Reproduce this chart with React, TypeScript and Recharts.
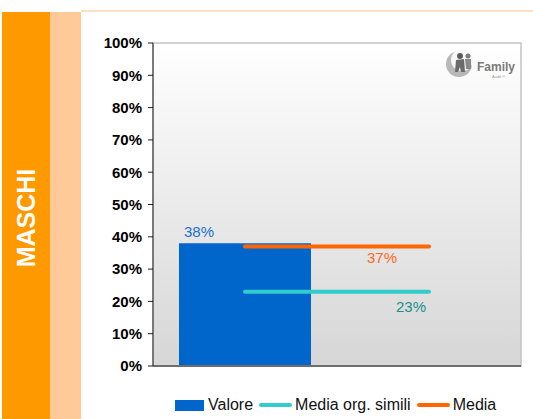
import React from "react";
import {
  Bar,
  CartesianGrid,
  ComposedChart,
  LabelList,
  Legend,
  Line,
  ReferenceArea,
  ReferenceLine,
  XAxis,
  YAxis,
} from "recharts";

const categories = ["A", "B"];
const valore = [38, null];
const mediaSimili = [23, 23];
const media = [37, 37];
const yTicks = [0, 10, 20, 30, 40, 50, 60, 70, 80, 90, 100];

const data = categories.map((cat, i) => ({
  cat,
  valore: valore[i],
  simili: mediaSimili[i],
  media: media[i],
}));

const FONT = '"Liberation Sans", Arial, sans-serif';

const legendItems = [
  { label: "Valore", color: "#0066cc", kind: "box" },
  { label: "Media org. simili", color: "#33cccc", kind: "line" },
  { label: "Media", color: "#ff6600", kind: "line" },
];

function ChartLegend() {
  return (
    <div style={{ display: "flex", alignItems: "center", fontFamily: FONT, fontSize: 16, color: "#111", paddingLeft: 175 }}>
      {legendItems.map((it) => (
        <div key={it.label} style={{ display: "flex", alignItems: "center", marginRight: 6 }}>
          {it.kind === "box" ? (
            <span style={{ width: 29, height: 11, background: it.color, display: "inline-block", marginRight: 4 }} />
          ) : (
            <span style={{ width: 33, height: 4, borderRadius: 2, background: it.color, display: "inline-block", marginRight: 3 }} />
          )}
          <span>{it.label}</span>
        </div>
      ))}
    </div>
  );
}

// value label for the last point of each line, shifted like the original
const lineLabel = (color: string, dx: number, dy: number) => (props: any) => {
  const { x, y, value, index } = props;
  if (index !== 1) return null;
  return (
    <text x={x + dx} y={y + dy} fill={color} fontSize={15} fontFamily={FONT} textAnchor="middle">
      {value}%
    </text>
  );
};

const barLabel = (props: any) => {
  const { x, y, value } = props;
  if (value == null) return null;
  return (
    <text x={x + 20} y={y - 6} fill="#1a6fd0" fontSize={15} fontFamily={FONT} textAnchor="middle">
      {value}%
    </text>
  );
};

export default function App() {
  return (
    <div style={{ position: "absolute", left: 0, top: 0, width: 533, height: 419, background: "#fff", overflow: "hidden" }}>
      <div style={{ position: "absolute", left: 2, top: 12, width: 48, height: 407, background: "#ff9900" }} />
      <div style={{ position: "absolute", left: 50, top: 12, width: 31, height: 407, background: "#fdca98" }} />
      <div style={{ position: "absolute", left: 81, top: 10, width: 452, height: 2, background: "#fde0c4" }} />
      <div
        style={{
          position: "absolute",
          left: 26,
          top: 218,
          transform: "translate(-50%, -50%) rotate(-90deg)",
          color: "#fff",
          fontFamily: FONT,
          fontWeight: "bold",
          fontSize: 25,
          whiteSpace: "nowrap",
        }}
      >
        MASCHI
      </div>

      <div style={{ position: "absolute", left: 0, top: 0 }}>
        <ComposedChart width={533} height={419} data={data} margin={{ top: 43, right: 12, bottom: 33, left: 0 }}>
          <defs>
            <linearGradient id="plotBg" x1="0" y1="0" x2="0" y2="1">
              <stop offset="0%" stopColor="#ffffff" />
              <stop offset="100%" stopColor="#d6d6d6" />
            </linearGradient>
          </defs>
          <CartesianGrid horizontal={false} vertical={false} fill="url(#plotBg)" />
          <ReferenceArea y1={0} y2={100} fill="none" stroke="#c4c4c4" strokeWidth={1.5} />
          <XAxis dataKey="cat" hide />
          <YAxis
            width={153}
            domain={[0, 100]}
            ticks={yTicks}
            tickFormatter={(v) => `${v}%`}
            axisLine={{ stroke: "#222" }}
            tickLine={{ stroke: "#222" }}
            tickSize={5}
            tickMargin={6}
            tick={{ fill: "#000", fontSize: 15, fontWeight: "bold", fontFamily: FONT }}
            interval={0}
          />
          <ReferenceLine y={0} stroke="#6e6e6e" strokeWidth={2} />
          <Bar dataKey="valore" fill="#0066cc" barSize={132} isAnimationActive={false}>
            <LabelList dataKey="valore" content={barLabel} />
          </Bar>
          <Line
            dataKey="simili"
            type="linear"
            stroke="#33cccc"
            strokeWidth={4}
            strokeLinecap="round"
            dot={false}
            isAnimationActive={false}
          >
            <LabelList dataKey="simili" content={lineLabel("#1a8f8a", -18, 20)} />
          </Line>
          <Line
            dataKey="media"
            type="linear"
            stroke="#ff6600"
            strokeWidth={4}
            strokeLinecap="round"
            dot={false}
            isAnimationActive={false}
          >
            <LabelList dataKey="media" content={lineLabel("#ff6a1a", -47, 17)} />
          </Line>
          <Legend
            verticalAlign="bottom"
            content={() => <ChartLegend />}
            wrapperStyle={{ top: 396, bottom: "auto", left: 0, width: 533, height: 20 }}
          />
        </ComposedChart>
      </div>

      {/* small grey "Family" logo in the top right corner */}
      <svg style={{ position: "absolute", left: 440, top: 46 }} width={80} height={34}>
        <circle cx={19} cy={18} r={13} fill="#b8b8b8" />
        <circle cx={22} cy={14} r={11} fill="#f7f7f7" />
        <circle cx={20} cy={10} r={3} fill="#5a5a5a" />
        <path d="M16 14 L24 13 L25 26 L21 26 L20 21 L18 26 L15 26 Z" fill="#6a6a6a" />
        <circle cx={28} cy={10} r={2.5} fill="#7a7a7a" />
        <path d="M25 13 L31 13 L31 23 L26 23 Z" fill="#8a8a8a" />
        <text x={37} y={25} fontFamily={FONT} fontWeight="bold" fontSize={12} fill="#7a7a7a">
          Family
        </text>
        <text x={52} y={32} fontFamily={FONT} fontSize={4} fill="#9a9a9a">
          Audit ®
        </text>
      </svg>
    </div>
  );
}
